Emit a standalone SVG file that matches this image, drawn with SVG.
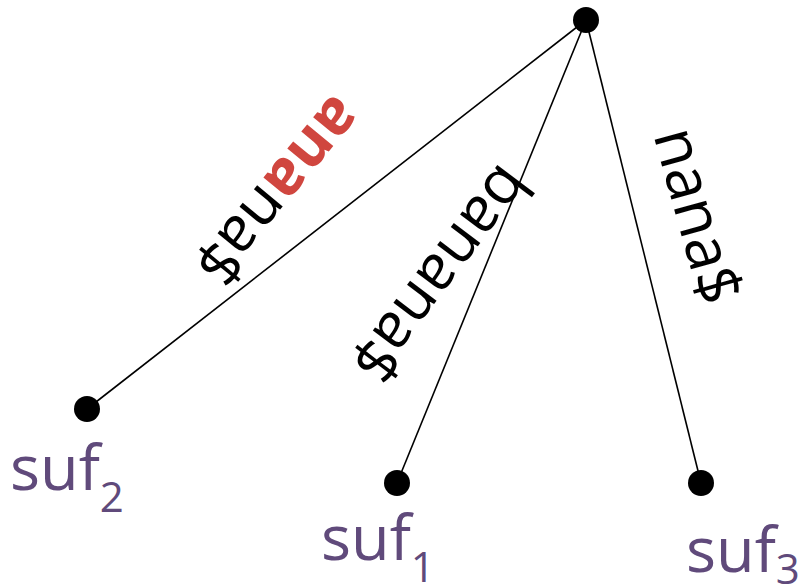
<svg xmlns="http://www.w3.org/2000/svg" width="801" height="587" viewBox="0 0 801 587">
<style>
.edge{stroke:#000;stroke-width:1.6;fill:none}
.node{fill:#000}
.lbl{font-family:"Open Sans","Noto Sans",sans-serif;font-size:62px;fill:#000}
.hl{fill:#D0463F;font-weight:bold}
.suf{font-family:"Open Sans","Noto Sans",sans-serif;font-size:63px;fill:#604A7B}
.sub{font-size:42px}
</style>
<rect width="801" height="587" fill="#fff"/>
<g id="connectors">
<line class="edge" x1="586" y1="20" x2="87" y2="409"/>
<line class="edge" x1="586" y1="20" x2="397" y2="483"/>
<line class="edge" x1="586" y1="20" x2="701" y2="483"/>
</g>
<g id="edge-labels">
<text class="lbl" text-anchor="middle" transform="translate(276,189) rotate(129.5)" y="17"><tspan class="hl">ana</tspan>na$</text>
<text class="lbl" text-anchor="middle" transform="translate(438,272) rotate(127)" y="17">banana$</text>
<text class="lbl" text-anchor="middle" transform="translate(694,217) rotate(74.4)" y="17">nana$</text>
</g>
<g id="root"><circle class="node" cx="586" cy="20" r="13"/></g>
<g id="suf2"><circle class="node" cx="87" cy="409" r="13"/><text class="suf" x="10" y="490">suf<tspan class="sub" dy="22">2</tspan></text></g>
<g id="suf1"><circle class="node" cx="397" cy="483" r="13"/><text class="suf" x="321" y="560">suf<tspan class="sub" dy="22">1</tspan></text></g>
<g id="suf3"><circle class="node" cx="701" cy="483" r="13"/><text class="suf" x="686" y="572">suf<tspan class="sub" dy="12">3</tspan></text></g>
</svg>
